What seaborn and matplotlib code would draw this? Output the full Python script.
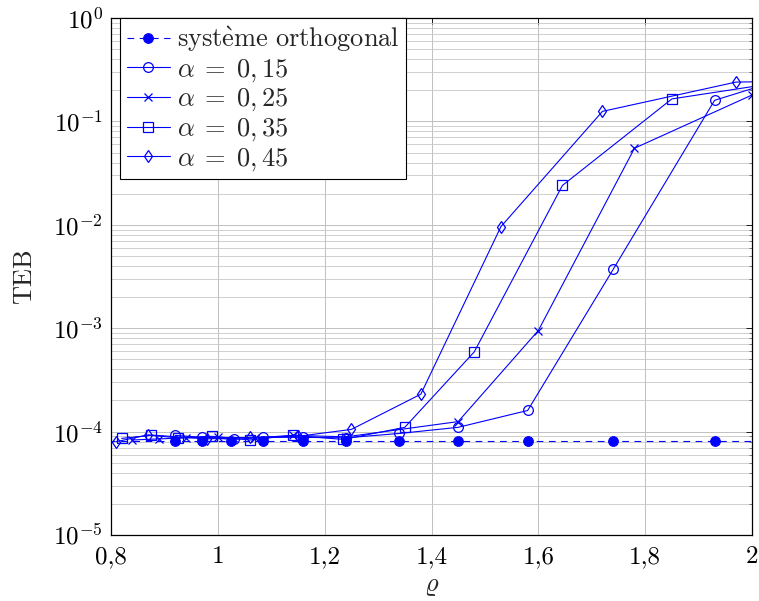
import numpy as np
import pandas as pd
import matplotlib
matplotlib.use("Agg")
import matplotlib.pyplot as plt
import seaborn as sns
from matplotlib.ticker import LogLocator, FixedLocator, NullFormatter

# ---- data ----
rho_ortho = [0.75, 0.92, 0.97, 1.025, 1.085, 1.16, 1.24, 1.34, 1.45, 1.58, 1.74, 1.93, 2.2]
teb_ortho = [8.2e-5, 8.2e-5, 8.2e-5, 8.2e-5, 8.2e-5, 8.2e-5, 8.2e-5, 8.2e-5, 8.2e-5, 8.2e-5, 8.2e-5, 8.2e-5, 8.2e-5]

rho_a15 = [0.92, 0.97, 1.03, 1.085, 1.16, 1.24, 1.34, 1.45, 1.58, 1.74, 1.93, 2.1]
teb_a15 = [9.2e-5, 8.8e-5, 8.4e-5, 8.8e-5, 8.8e-5, 8.7e-5, 9.6e-5, 1.1e-4, 1.6e-4, 3.7e-3, 0.16, 0.30]

rho_a25 = [0.84, 0.89, 0.94, 1.0, 1.07, 1.14, 1.24, 1.45, 1.6, 1.78, 2.0]
teb_a25 = [8.3e-5, 8.5e-5, 8.7e-5, 8.8e-5, 8.7e-5, 9.2e-5, 8.9e-5, 1.25e-4, 9.5e-4, 5.5e-2, 0.18]

rho_a35 = [0.82, 0.875, 0.925, 0.99, 1.06, 1.14, 1.235, 1.35, 1.48, 1.645, 1.85, 2.1]
teb_a35 = [8.6e-5, 9.2e-5, 8.7e-5, 9.0e-5, 8.3e-5, 9.2e-5, 8.4e-5, 1.1e-4, 5.9e-4, 2.4e-2, 0.165, 0.26]

rho_a45 = [0.81, 0.87, 0.98, 1.06, 1.15, 1.25, 1.38, 1.53, 1.72, 1.97, 2.2]
teb_a45 = [8.0e-5, 9.3e-5, 8.5e-5, 8.8e-5, 9.0e-5, 1.05e-4, 2.3e-4, 9.6e-3, 0.125, 0.24, 0.25]

x_ticks = [0.8, 1.0, 1.2, 1.4, 1.6, 1.8, 2.0]
x_tick_labels = ["0,8", "1", "1,2", "1,4", "1,6", "1,8", "2"]
labels = [r"$\mathrm{syst\grave{e}me\ orthogonal}$", r"$\alpha\;=\;0,15$", r"$\alpha\;=\;0,25$",
          r"$\alpha\;=\;0,35$", r"$\alpha\;=\;0,45$"]

# ---- style ----
sns.set_theme(style="white")
plt.rcParams["mathtext.fontset"] = "cm"
plt.rcParams["font.family"] = ["cmr10", "DejaVu Serif"]
plt.rcParams["axes.unicode_minus"] = False
plt.rcParams["axes.formatter.use_mathtext"] = True

FS_TICK = 18
FS_LEG = 19
FS_LAB = 19
BLUE = "#0000ff"

fig = plt.figure(figsize=(7.59, 6.01), dpi=100)
ax = fig.add_axes([111 / 759, 1 - 535 / 601, (752 - 111) / 759, (535 - 18) / 601])

lw = 0.8
common = dict(ax=ax, color=BLUE, linewidth=lw, sort=False, estimator=None)

sns.lineplot(x=rho_ortho, y=teb_ortho, linestyle=(0, (6, 5)), marker="o", markersize=7,
             markerfacecolor=BLUE, markeredgecolor=BLUE, label=labels[0], **common)
sns.lineplot(x=rho_a15, y=teb_a15, marker="o", markersize=7, markerfacecolor="none",
             markeredgecolor=BLUE, markeredgewidth=0.9, label=labels[1], **common)
sns.lineplot(x=rho_a25, y=teb_a25, marker="x", markersize=5.5,
             markeredgecolor=BLUE, markeredgewidth=0.9, label=labels[2], **common)
sns.lineplot(x=rho_a35, y=teb_a35, marker="s", markersize=6.5, markerfacecolor="none",
             markeredgecolor=BLUE, markeredgewidth=0.9, label=labels[3], **common)
sns.lineplot(x=rho_a45, y=teb_a45, marker="d", markersize=6.5, markerfacecolor="none",
             markeredgecolor=BLUE, markeredgewidth=0.9, label=labels[4], **common)

ax.set_yscale("log")
ax.set_xlim(0.8, 2.0)
ax.set_ylim(1e-5, 1.0)

ax.xaxis.set_major_locator(FixedLocator(x_ticks))
ax.set_xticklabels(x_tick_labels)
ax.yaxis.set_major_locator(LogLocator(base=10, numticks=10))
ax.yaxis.set_minor_locator(LogLocator(base=10, subs=np.arange(2, 10), numticks=20))
ax.yaxis.set_minor_formatter(NullFormatter())

ax.grid(True, which="major", color="#c0c0c0", linewidth=0.7)
ax.grid(True, which="minor", axis="y", color="#c8c8c8", linewidth=0.6)
ax.set_axisbelow(True)

ax.tick_params(axis="both", which="both", direction="in", top=True, right=True,
               labelsize=FS_TICK, colors="black")
ax.tick_params(which="major", length=4, width=0.6)
ax.tick_params(axis="x", which="major", pad=8)
ax.tick_params(axis="y", which="major", pad=6)
ax.tick_params(which="minor", length=2.5, width=0.5, color="#555555")
for sp in ax.spines.values():
    sp.set_color("black")
    sp.set_linewidth(0.9)

ax.set_xlabel(r"$\varrho$", fontsize=FS_LAB, labelpad=4)
ax.set_ylabel("TEB", fontsize=FS_LAB, labelpad=12)

leg = ax.legend(loc="upper left", bbox_to_anchor=(9 / 641, 1.0), fontsize=FS_LEG,
                frameon=True, fancybox=False, edgecolor="black", framealpha=1,
                borderaxespad=0.0, labelspacing=0.12, handlelength=1.65,
                handletextpad=0.25, borderpad=0.25)
leg.get_frame().set_linewidth(0.8)

fig.savefig("out.png", dpi=100)
